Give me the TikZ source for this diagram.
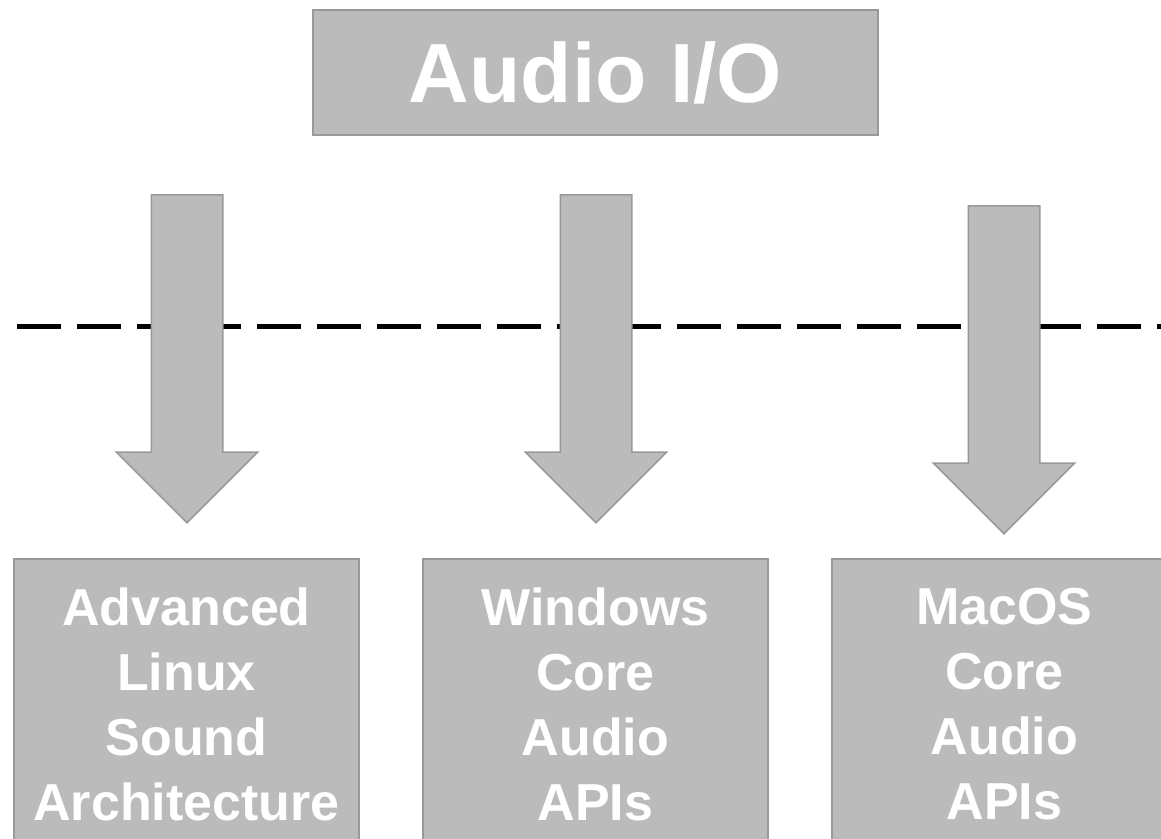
\documentclass[tikz,border=0pt]{standalone}
\usepackage{fontspec}
\setmainfont{Liberation Sans}
\usepackage{tikz}
\usetikzlibrary{shapes.arrows,positioning}
\definecolor{boxfill}{HTML}{BBBBBB}
\definecolor{boxline}{HTML}{999999}

\begin{document}
\begin{tikzpicture}[x=1pt,y=1pt,
  titlebox/.style={draw=boxline,fill=boxfill,line width=2pt,text=white,
    font=\bfseries\fontsize{84}{100}\selectfont,minimum width=565pt,minimum height=125pt},
  apibox/.style={draw=boxline,fill=boxfill,line width=2pt,text=white,
    font=\bfseries\fontsize{52}{65}\selectfont,align=center,
    minimum width=345pt,inner ysep=29pt,anchor=north},
  downarrow/.style={single arrow,draw=boxline,fill=boxfill,line width=1.5pt,
    rotate=-90,anchor=tail,minimum height=328pt,minimum width=140pt,
    single arrow head extend=35pt,single arrow head indent=0pt,
    inner xsep=0pt,inner ysep=35pt}]
  \useasboundingbox (0,0) rectangle (1161,-838);
  \clip (0,0) rectangle (1161,-838);
  % layer line
  \coordinate (lineL) at (17,-326);
  \coordinate (lineR) at (1170,-326);
  \draw[line width=5pt,dash pattern=on 44pt off 16pt] (lineL) -- (lineR);
  % boxes
  \node[titlebox] (audio) at (595.5,-72.5) {Audio I/O};
  \node[apibox] (alsa) at (186.5,-558) {Advanced\\Linux\\Sound\\Architecture};
  \node[apibox] (wincore) at (595.5,-558) {Windows\\Core\\Audio\\APIs};
  \node[apibox] (maccore) at (1004.5,-558) {MacOS\\Core\\Audio\\APIs};
  % arrows
  \node[downarrow] (arrowL) at (187,-194) {};
  \node[downarrow] (arrowM) at (596,-194) {};
  \node[downarrow] (arrowR) at (1004,-205) {};
\end{tikzpicture}
\end{document}
